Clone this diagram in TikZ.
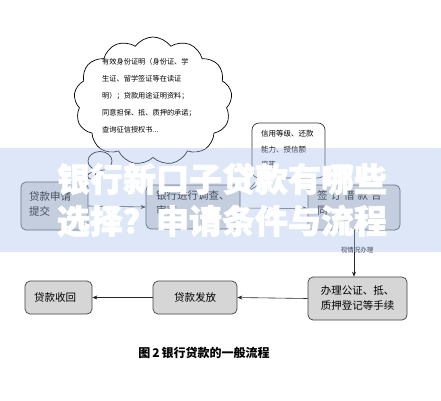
\documentclass[tikz,border=0pt]{standalone}
\usepackage{fontspec}
\newfontfamily\cjk{Noto Sans CJK SC}
\newfontfamily\wmfont{Noto Sans CJK SC}[FakeBold=2]
\usetikzlibrary{shapes.symbols,shapes.geometric,arrows.meta}
\tikzset{
  box/.style={draw=black!75, fill=black!16, rounded corners=5pt, line width=0.7pt, inner sep=0pt},
  txt/.style={font=\cjk\fontsize{10.5}{15}\selectfont, inner sep=0pt, align=left},
  small/.style={font=\cjk\fontsize{7.2}{17}\selectfont, inner sep=0pt, align=left},
  arr/.style={-{Stealth[length=5pt,width=4pt]}, line width=0.6pt, black!85},
  band/.style={fill={rgb,255:red,170;green,195;blue,235}, fill opacity=0.4, draw=none},
  wm/.style={font=\wmfont\bfseries\fontsize{33}{42}\selectfont, text=white, inner sep=0pt, align=center}
}
\begin{document}
\begin{tikzpicture}[x=1pt,y=-1pt]
\useasboundingbox (0,0) rectangle (441,400);
% cloud
\node[cloud, draw=black, line width=0.7pt, fill=white, cloud puffs=13, cloud puff arc=110, aspect=1.25, minimum width=158pt, minimum height=128pt, inner sep=0pt] (cloud) at (153,101) {};
\node[ellipse, draw=black, line width=0.7pt, fill=white, minimum width=24pt, minimum height=19pt, inner sep=0pt] (bub1) at (100,161) {};
\node[ellipse, draw=black, line width=0.7pt, fill=white, minimum width=9pt, minimum height=7pt, inner sep=0pt] (bub2) at (92,176) {};
\node[small, anchor=north west] (ctext) at (102,58) {有效身份证明（身份证、学\\生证、留学签证等在读证\\明）；贷款用途证明资料；\\同意担保、抵、质押的承诺；\\查询征信授权书...};
% credit box with pointer
\coordinate (ptr) at (247,192);
\node[draw=black!80, fill=white, rounded corners=7pt, line width=0.7pt, minimum width=73pt, minimum height=55pt, inner sep=0pt] (cb) at (288.5,150.5) {};
\draw[black!80, line width=0.6pt] ([xshift=7pt]cb.south west) -- (ptr) -- ([xshift=17pt]cb.south west);
\node[small, font=\cjk\fontsize{7.5}{15.5}\selectfont, anchor=north west] (cbt) at (261,130) {信用等级、还款\\能力、授信额\\度等};
% boxes
\node[box, minimum width=67pt, minimum height=48pt] (b1) at (54.5,206) {};
\node[txt, anchor=north west] at (29,191) {贷款申请\\提交};
\node[box, minimum width=94pt, minimum height=44pt] (b2) at (193,207) {};
\node[txt, anchor=north west] at (156,190) {银行进行调查、\\审查};
\node[box, minimum width=92pt, minimum height=45pt] (b3) at (354,207.5) {};
\node[txt, anchor=north west] at (317,190) {签\hspace{3pt}订\hspace{3pt}借\hspace{3pt}款\hspace{3pt}合\\同};
\node[box, minimum width=99pt, minimum height=43pt] (b4) at (357.5,298.5) {};
\node[txt, align=center] at (357.5,298.5) {办理公证、抵、\\质押登记等手续};
\node[box, minimum width=84pt, minimum height=33pt] (b5) at (195,297.5) {};
\node[txt] at (195,297.5) {贷款发放};
\node[box, minimum width=67pt, minimum height=33pt] (b6) at (58.5,297.5) {};
\node[txt] at (55,297.5) {贷款收回};
% connectors
\draw[arr] (b1.east) -- (b2.west);
\draw[arr] ([yshift=-1pt]b2.east) -- ([yshift=-1pt]b3.west);
\draw[arr] (b3.south) -- (b3.south |- b4.north);
\node[font=\cjk\fontsize{6.5}{8}\selectfont, inner sep=0pt] (lbl) at (357,250) {视情况办理};
\draw[arr] (b4.west) -- (b5.east);
\draw[arr] (b5.west) -- (b6.east);
% caption
\node[font=\cjk\bfseries\fontsize{12}{14}\selectfont, inner sep=0pt] (cap) at (204,353) {图\,2\,银行贷款的一般流程};
% watermark band
\fill[band] (0,148) rectangle (441,252);
\node[wm] (wm1) at (222,179) {银行新口子贷款有哪些};
\node[wm] (wm2) at (222,221) {选择？申请条件与流程};
\end{tikzpicture}
\end{document}
